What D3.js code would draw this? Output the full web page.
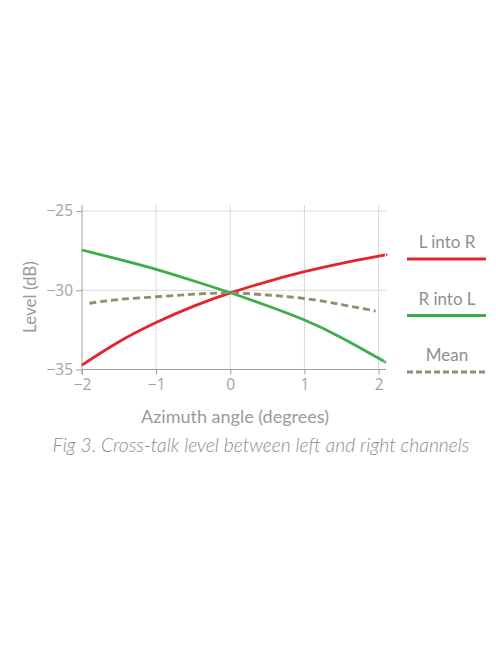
<!DOCTYPE html>
<html>
<head>
<meta charset="utf-8">
<script src="https://d3js.org/d3.v7.min.js"></script>
<style>
  body { margin: 0; background: #fff; }
  text { font-family: Lato, "Open Sans", sans-serif; }
</style>
</head>
<body>
<svg id="vis"></svg>
<script>
    // values
    const xTicks = [-2, -1, 0, 1, 2]
    const yTicks = [-35, -30, -25]

    const lIntoR = [[-2, -34.72], [-1.5, -33.25], [-1, -32.04], [-0.5, -31.02], [0, -30.17],
                    [0.5, -29.45], [1, -28.83], [1.5, -28.30], [2, -27.85], [2.1, -27.77]]
    const rIntoL = [[-2, -27.46], [-1.5, -28.05], [-1, -28.68], [-0.5, -29.40], [0, -30.16],
                    [0.5, -30.98], [1, -31.88], [1.5, -32.99], [2, -34.29], [2.08, -34.51]]
    const mean = [[-1.9, -30.82], [-1.5, -30.58], [-1, -30.41], [-0.5, -30.25], [0, -30.17],
                  [0.5, -30.30], [1, -30.52], [1.5, -30.90], [1.96, -31.31]]

    const legendNames = ['L into R', 'R into L', 'Mean']
    const colors = ['#e1262d', '#3cae49', '#958b6f']

    let svg = d3.select('#vis')
        .attr('width', 496)
        .attr('height', 664)

    let x = d3.scaleLinear().domain([-2, 2.1]).range([82, 386])
    let y = d3.scaleLinear().domain([-35, -25]).range([369.5, 211])

    // grid
    svg.append('g')
        .selectAll('line')
        .data(xTicks.slice(1))
        .enter().append('line')
        .attr('x1', d => x(d)).attr('x2', d => x(d))
        .attr('y1', 205).attr('y2', y(-35))
        .attr('stroke', '#d8d8d8')
    svg.append('g')
        .selectAll('line')
        .data(yTicks.slice(1))
        .enter().append('line')
        .attr('x1', x(-2)).attr('x2', 386)
        .attr('y1', d => y(d)).attr('y2', d => y(d))
        .attr('stroke', '#d8d8d8')

    // axes
    let xAxis = svg.append('g')
        .attr('transform', `translate(0,${y(-35)})`)
        .call(d3.axisBottom(x).tickValues(xTicks).tickSize(5).tickPadding(4)
            .tickFormat(d => d < 0 ? '\u2212' + Math.abs(d) : d))
    let yAxis = svg.append('g')
        .attr('transform', `translate(${x(-2)},0)`)
        .call(d3.axisLeft(y).tickValues(yTicks).tickSize(6).tickPadding(3)
            .tickFormat(d => '\u2212' + Math.abs(d)))
    ;[xAxis, yAxis].forEach(a => {
        a.attr('font-size', null).attr('font-family', null)
        a.select('.domain').attr('stroke', '#a0a0a0')
        a.selectAll('.tick line').attr('stroke', '#a0a0a0')
        a.selectAll('text').attr('fill', '#a3a3a3')
            .style('font-family', '"Open Sans", sans-serif')
            .style('font-size', '15.5px')
    })
    xAxis.select('.domain').attr('d', `M${x(-2)},0H386`)
    yAxis.select('.domain').attr('d', `M0,${y(-35) + 5}V205`)

    // axis titles
    svg.append('text')
        .attr('x', 235).attr('y', 423)
        .attr('text-anchor', 'middle')
        .attr('fill', '#9a9a9a')
        .style('font-size', '18px')
        .text('Azimuth angle (degrees)')
    svg.append('text')
        .attr('transform', 'translate(36,297) rotate(-90)')
        .attr('text-anchor', 'middle')
        .attr('fill', '#9a9a9a')
        .style('font-size', '17px')
        .text('Level (dB)')

    // lines
    let line = d3.line().curve(d3.curveNatural).x(d => x(d[0])).y(d => y(d[1]))
    ;[lIntoR, rIntoL, mean].forEach((s, i) => {
        svg.append('path')
            .attr('d', line(s))
            .attr('fill', 'none')
            .attr('stroke', colors[i])
            .attr('stroke-width', 2.8)
            .attr('stroke-dasharray', i == 2 ? '7,4' : null)
    })

    // legend
    legendNames.forEach((name, i) => {
        let ly = 259 + i * 56.5
        svg.append('text')
            .attr('x', 447).attr('y', ly - 11)
            .attr('text-anchor', 'middle')
            .attr('fill', '#8f8f8f')
            .style('font-size', '17px')
            .text(name)
        svg.append('line')
            .attr('x1', 407).attr('x2', 486)
            .attr('y1', ly).attr('y2', ly)
            .attr('stroke', colors[i])
            .attr('stroke-width', 2.8)
            .attr('stroke-dasharray', i == 2 ? '6,3' : null)
    })

    // caption
    svg.append('text')
        .attr('x', 261).attr('y', 452)
        .attr('text-anchor', 'middle')
        .attr('fill', '#8c8c8c')
        .style('font-size', '19.3px')
        .style('font-style', 'italic')
        .style('font-weight', 300)
        .text('Fig 3. Cross-talk level between left and right channels')
</script>
</body>
</html>
